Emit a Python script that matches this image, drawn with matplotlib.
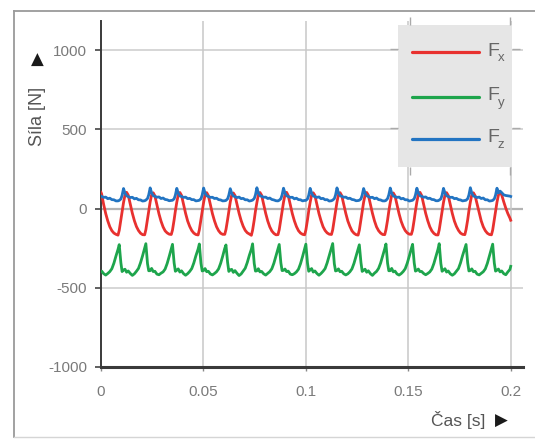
import numpy as np
import matplotlib
matplotlib.use("Agg")
import matplotlib.pyplot as plt
from matplotlib.lines import Line2D

plt.rcParams['font.family'] = ['Liberation Sans', 'DejaVu Sans']

# time of each sample in ms, one row per cycle
t_ms = [
    0.0, 0.3, 1.3, 2.3, 3.3, 4.3, 5.3, 6.3, 7.3,
    8.3, 8.9, 9.7, 10.3, 11.0, 11.7, 12.5, 13.3, 14.3, 15.3, 16.3, 17.3, 18.3, 19.3, 20.3,
    21.3, 21.9, 22.7, 23.3, 24.0, 24.7, 25.5, 26.3, 27.3, 28.3, 29.3, 30.3, 31.3, 32.3, 33.3,
    34.3, 34.9, 35.7, 36.3, 37.0, 37.7, 38.5, 39.3, 40.3, 41.3, 42.3, 43.3, 44.3, 45.3, 46.3,
    47.4, 48.0, 48.8, 49.4, 50.1, 50.8, 51.6, 52.4, 53.4, 54.4, 55.4, 56.4, 57.4, 58.4, 59.4,
    60.4, 61.0, 61.8, 62.4, 63.1, 63.8, 64.6, 65.4, 66.4, 67.4, 68.4, 69.4, 70.4, 71.4, 72.4,
    73.4, 74.0, 74.8, 75.4, 76.1, 76.8, 77.6, 78.4, 79.4, 80.4, 81.4, 82.4, 83.4, 84.4, 85.4,
    86.4, 87.0, 87.8, 88.4, 89.1, 89.8, 90.6, 91.4, 92.4, 93.4, 94.4, 95.4, 96.4, 97.4, 98.4,
    99.4, 100.0, 100.8, 101.4, 102.1, 102.8, 103.6, 104.4, 105.4, 106.4, 107.4, 108.4, 109.4, 110.4, 111.4,
    112.5, 113.1, 113.9, 114.5, 115.2, 115.9, 116.7, 117.5, 118.5, 119.5, 120.5, 121.5, 122.5, 123.5, 124.5,
    125.5, 126.1, 126.9, 127.5, 128.2, 128.9, 129.7, 130.5, 131.5, 132.5, 133.5, 134.5, 135.5, 136.5, 137.5,
    138.5, 139.1, 139.9, 140.5, 141.2, 141.9, 142.7, 143.5, 144.5, 145.5, 146.5, 147.5, 148.5, 149.5, 150.5,
    151.5, 152.1, 152.9, 153.5, 154.2, 154.9, 155.7, 156.5, 157.5, 158.5, 159.5, 160.5, 161.5, 162.5, 163.5,
    164.5, 165.1, 165.9, 166.5, 167.2, 167.9, 168.7, 169.5, 170.5, 171.5, 172.5, 173.5, 174.5, 175.5, 176.5,
    177.6, 178.2, 179.0, 179.6, 180.3, 181.0, 181.8, 182.6, 183.6, 184.6, 185.6, 186.6, 187.6, 188.6, 189.6,
    190.6, 191.2, 192.0, 192.6, 193.3, 194.0, 194.8, 195.6, 196.6, 197.6, 198.6, 199.6, 200.0,
]

fx = [
    102, 92, 25, -32, -78, -115, -140, -155, -163,
    -168, -138, -72, -18, 38, 84, 102, 84, 27, -30, -77, -114, -139, -156, -165,
    -166, -134, -68, -14, 42, 86, 99, 80, 24, -34, -80, -116, -141, -154, -162,
    -164, -136, -71, -16, 40, 85, 101, 83, 26, -31, -79, -113, -139, -155, -164,
    -167, -135, -69, -15, 39, 86, 100, 81, 25, -33, -78, -115, -140, -156, -163,
    -163, -133, -70, -17, 41, 84, 98, 82, 26, -30, -76, -112, -138, -153, -161,
    -169, -137, -72, -16, 38, 85, 101, 84, 28, -31, -79, -116, -142, -157, -166,
    -165, -134, -68, -14, 40, 87, 102, 81, 24, -33, -78, -114, -140, -155, -163,
    -166, -136, -71, -15, 39, 85, 99, 83, 26, -32, -77, -115, -139, -154, -162,
    -164, -135, -70, -17, 41, 86, 100, 82, 25, -31, -79, -113, -141, -156, -165,
    -168, -137, -69, -14, 40, 84, 101, 84, 27, -30, -78, -116, -140, -155, -164,
    -165, -134, -72, -16, 38, 85, 98, 80, 24, -33, -80, -114, -139, -154, -162,
    -163, -136, -70, -15, 42, 87, 102, 83, 26, -31, -77, -115, -141, -157, -166,
    -167, -135, -68, -17, 39, 84, 100, 82, 25, -32, -79, -113, -138, -155, -163,
    -165, -133, -71, -14, 41, 86, 99, 81, 27, -30, -78, -115, -140, -156, -164,
    -166, -136, -70, -16, 40, 85, 101, 86, 42, 2, -32, -60, -74,
]

fy = [
    -396, -395, -411, -420, -410, -398, -380, -345, -300,
    -258, -228, -342, -398, -388, -383, -402, -394, -410, -422, -412, -396, -378, -342, -298,
    -250, -222, -348, -393, -392, -378, -398, -396, -414, -418, -408, -400, -382, -347, -302,
    -254, -226, -344, -396, -389, -381, -401, -393, -411, -421, -411, -397, -379, -344, -299,
    -256, -224, -346, -394, -391, -379, -399, -396, -413, -419, -410, -399, -381, -346, -301,
    -252, -230, -340, -397, -387, -384, -403, -392, -409, -423, -413, -395, -377, -341, -296,
    -257, -223, -347, -395, -393, -380, -400, -397, -412, -420, -409, -398, -380, -345, -300,
    -253, -227, -343, -392, -390, -382, -398, -395, -414, -418, -411, -400, -383, -348, -303,
    -255, -225, -345, -396, -388, -379, -401, -394, -410, -421, -410, -396, -379, -343, -298,
    -251, -221, -349, -394, -391, -381, -399, -396, -412, -419, -412, -399, -381, -346, -301,
    -256, -229, -341, -397, -389, -383, -402, -393, -411, -422, -408, -397, -378, -344, -299,
    -254, -224, -346, -393, -392, -378, -400, -395, -413, -420, -411, -398, -380, -345, -300,
    -252, -226, -344, -395, -390, -382, -398, -397, -410, -418, -410, -400, -382, -347, -302,
    -257, -222, -347, -396, -388, -380, -401, -394, -412, -421, -412, -396, -379, -343, -297,
    -253, -227, -343, -394, -391, -381, -399, -396, -414, -419, -409, -399, -381, -346, -300,
    -255, -225, -345, -395, -389, -382, -400, -394, -411, -418, -400, -385, -365,
]

fz = [
    78, 76, 70, 72, 62, 65, 56, 55, 48,
    48, 51, 60, 83, 126, 97, 80, 75, 69, 71, 61, 64, 55, 54, 47,
    49, 53, 63, 86, 130, 99, 81, 77, 71, 73, 63, 66, 57, 55, 49,
    51, 52, 61, 84, 127, 98, 79, 76, 70, 72, 62, 64, 56, 56, 48,
    50, 52, 62, 85, 129, 97, 80, 76, 70, 71, 63, 65, 56, 54, 48,
    49, 51, 61, 84, 125, 96, 79, 75, 69, 72, 62, 64, 55, 55, 47,
    50, 53, 63, 86, 131, 99, 81, 77, 71, 72, 63, 66, 57, 54, 49,
    48, 52, 62, 85, 128, 98, 80, 76, 70, 71, 61, 65, 56, 55, 48,
    51, 51, 60, 83, 127, 97, 79, 75, 70, 73, 62, 64, 55, 56, 47,
    49, 53, 62, 85, 130, 99, 81, 77, 71, 72, 63, 65, 57, 55, 49,
    50, 52, 61, 84, 126, 98, 80, 76, 69, 71, 62, 66, 56, 54, 48,
    48, 51, 63, 86, 129, 97, 79, 75, 70, 72, 61, 64, 55, 55, 47,
    50, 52, 62, 85, 128, 99, 81, 77, 71, 73, 63, 65, 57, 56, 49,
    49, 53, 61, 84, 127, 98, 80, 76, 70, 71, 62, 64, 56, 54, 48,
    51, 52, 62, 85, 131, 97, 79, 75, 69, 72, 63, 66, 55, 55, 47,
    49, 51, 61, 84, 128, 98, 110, 100, 86, 82, 80, 78, 76,
]

xticks = [0, 0.05, 0.1, 0.15, 0.2]
xtick_labels = ['0', '0.05', '0.1', '0.15', '0.2']
yticks = [-1000, -500, 0, 500, 1000]
ytick_labels = ['-1000', '-500', '0', '500', '1000']

series = [('x', fx, '#e8312f'), ('y', fy, '#1ea54c'), ('z', fz, '#2274c2')]

t = np.array(t_ms) / 1000.0

W, H = 535, 442
fig = plt.figure(figsize=(W / 100, H / 100), dpi=100)
fig.patch.set_facecolor('white')

ax = fig.add_axes([101 / W, 1 - 367 / H, 422 / W, 346 / H])
for name, vals, col in series:
    ax.plot(t, vals, color=col, lw=2.0, solid_joinstyle='round', zorder=3)

ax.set_xlim(0, 0.206)
ax.set_ylim(-1000, 1183)
ax.set_xticks(xticks)
ax.set_xticklabels(xtick_labels)
ax.set_yticks(yticks)
ax.set_yticklabels(ytick_labels)
ax.tick_params(axis='both', labelsize=11, labelcolor='#7a7a7a')
ax.tick_params(axis='y', direction='out', length=4, width=1.2, color='#444444', pad=6)
ax.tick_params(axis='x', direction='out', length=3, width=1, color='#888888', pad=10)

for yv in [500, 1000, -500]:
    ax.axhline(yv, color='#cccccc', lw=1.1, zorder=1)
ax.axhline(0, color='#b3b3b3', lw=1.6, zorder=1)
for xv in xticks[1:]:
    ax.axvline(xv, color='#c8c8c8', lw=1.1, zorder=1)

ax.spines['top'].set_visible(False)
ax.spines['right'].set_visible(False)
ax.spines['left'].set_color('#3a3a3a')
ax.spines['left'].set_linewidth(1.4)
ax.spines['bottom'].set_color('#3a3a3a')
ax.spines['bottom'].set_linewidth(2.2)

# axis labels, with their black arrow heads
fam = ['Liberation Sans', 'DejaVu Sans']
fig.text(38 / W, 1 - 116 / H, 'Síla [N]', rotation=90, ha='center', va='center',
         fontsize=13, color='#555555', family=fam)
fig.text(37 / W, 1 - 60 / H, '\u25B2', ha='center', va='center',
         fontsize=12, color='#1a1a1a', family=['DejaVu Sans'])
fig.text(458 / W, 1 - 420 / H, 'Čas [s]', ha='center', va='center',
         fontsize=12.5, color='#555555', family=fam)
fig.text(501 / W, 1 - 421 / H, '\u25B6', ha='center', va='center',
         fontsize=12, color='#1a1a1a', family=['DejaVu Sans'])

# legend drawn as a small grey panel
lg = fig.add_axes([398 / W, 1 - 167 / H, 114 / W, 142 / H])
lg.set_facecolor('#e6e6e6')
lg.set_xlim(0, 114)
lg.set_ylim(142, 0)
for s in lg.spines.values():
    s.set_visible(False)
lg.set_xticks([12, 112])
lg.set_yticks([24, 103])
lg.tick_params(which='both', direction='out', length=6, width=1, color='#aaaaaa',
               top=True, right=True, labelbottom=False, labelleft=False)
row_y = [27, 72, 114]
for (name, vals, col), ry in zip(series, row_y):
    lg.plot([14, 81], [ry, ry], color=col, lw=2.3, solid_capstyle='round')
    lg.text(89, ry - 1, 'F', fontsize=14, color='#666666', ha='left', va='center')
    lg.text(100, ry + 6, name, fontsize=9.5, color='#666666', ha='left', va='center')

# outer frame of the picture
fig.add_artist(Line2D([14 / W, 14 / W], [1 - 437 / H, 1 - 11 / H], color='#9a9a9a', lw=1.3))
fig.add_artist(Line2D([14 / W, 1.0], [1 - 11 / H, 1 - 11 / H], color='#9a9a9a', lw=1.3))
fig.add_artist(Line2D([14 / W, 1.0], [1 - 437 / H, 1 - 437 / H], color='#d5d5d5', lw=1.0))

fig.savefig('out.png', dpi=100, facecolor='white')
